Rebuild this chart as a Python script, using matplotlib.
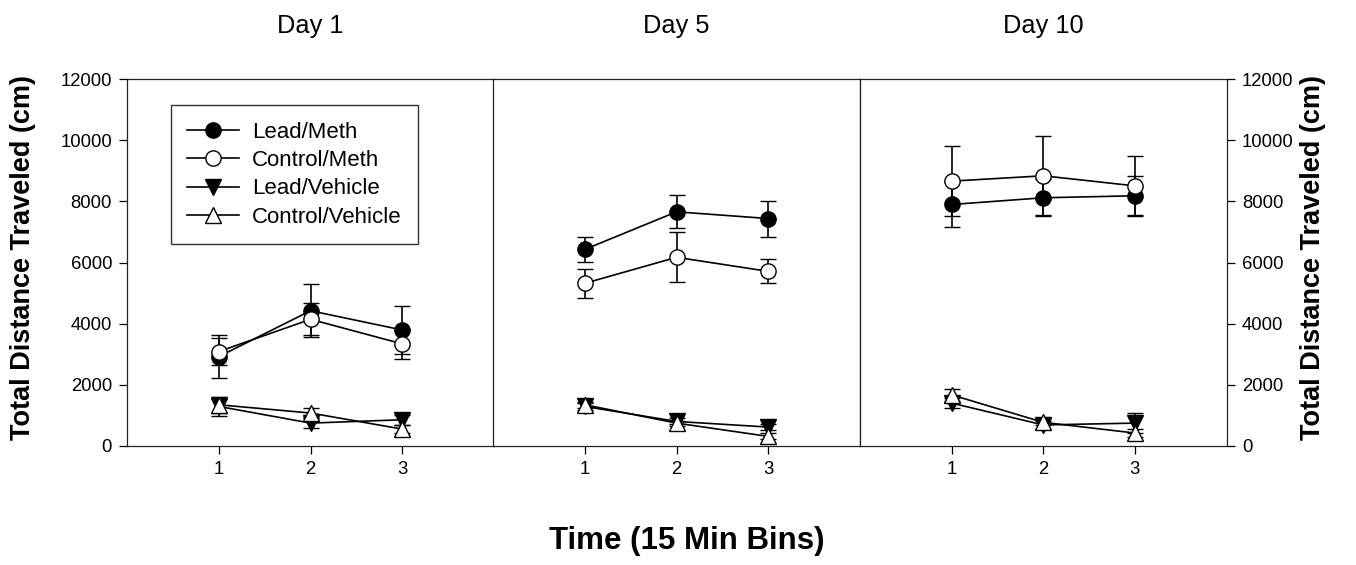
import numpy as np
import matplotlib
matplotlib.use("Agg")
import matplotlib.pyplot as plt
from matplotlib.lines import Line2D

plt.rcParams['font.family'] = ['Liberation Sans', 'DejaVu Sans']

# data (mean, SEM) per day
days = ["Day 1", "Day 5", "Day 10"]
bins = [1, 2, 3]

lead_meth = [[2920, 4420, 3790], [6430, 7660, 7440], [7900, 8120, 8185]]
lead_meth_err = [[700, 870, 800], [420, 545, 590], [750, 600, 650]]

ctrl_meth = [[3085, 4140, 3335], [5320, 6170, 5710], [8665, 8840, 8510]]
ctrl_meth_err = [[435, 520, 500], [470, 820, 390], [1150, 1300, 970]]

lead_veh = [[1285, 740, 850], [1285, 795, 610], [1395, 680, 740]]
lead_veh_err = [[300, 170, 160], [100, 100, 100], [160, 120, 330]]

ctrl_veh = [[1340, 1070, 545], [1340, 740, 305], [1665, 765, 415]]
ctrl_veh_err = [[270, 170, 130], [100, 80, 100], [190, 100, 120]]

series = [
    ("Lead/Meth", lead_meth, lead_meth_err, 'o', 'black'),
    ("Control/Meth", ctrl_meth, ctrl_meth_err, 'o', 'white'),
    ("Lead/Vehicle", lead_veh, lead_veh_err, 'v', 'black'),
    ("Control/Vehicle", ctrl_veh, ctrl_veh_err, '^', 'white'),
]

fig = plt.figure(figsize=(13.56, 5.65), dpi=100)

lefts = [127.3 / 1356, 493.3 / 1356, 860 / 1356]
w = 366.5 / 1356
b = (565 - 445.7) / 565
h = 366.4 / 565

axes = []
for i, day in enumerate(days):
    ax = fig.add_axes([lefts[i], b, w, h])
    axes.append(ax)
    for name, vals, errs, mk, fc in series:
        ax.errorbar(bins, vals[i], yerr=errs[i], fmt='-', marker=mk, color='black',
                    mfc=fc, mec='black', ms=11, lw=1.2, elinewidth=1.2,
                    capsize=6, capthick=1.2, mew=1.0)
    ax.set_xlim(0, 4)
    ax.set_ylim(0, 12000)
    ax.set_xticks(bins)
    ax.set_yticks(np.arange(0, 12001, 2000))
    ax.tick_params(direction='out', length=6, width=0.9, labelsize=13.3, pad=5)
    for s in ax.spines.values():
        s.set_linewidth(0.9)
        s.set_color('#222222')
    ax.set_title(day, fontsize=18.3, pad=33)

# left panel: y ticks on left only
axes[0].set_ylabel("Total Distance Traveled (cm)", fontsize=19.5, fontweight='bold')
axes[0].yaxis.set_label_coords(-0.248, 0.513)

# middle panel: no y ticks
axes[1].tick_params(axis='y', left=False, labelleft=False)

# right panel: y ticks on right
axes[2].yaxis.tick_right()
axes[2].tick_params(axis='y', right=True, left=False, labelright=True, labelleft=False)
axes[2].yaxis.set_label_position('right')
axes[2].set_ylabel("Total Distance Traveled (cm)", fontsize=19.5, fontweight='bold',
                   rotation=90)
axes[2].yaxis.set_label_coords(1.20, 0.513)

handles = [Line2D([], [], color='black', lw=1.2, marker=mk, mfc=fc, mec='black',
                  ms=11, mew=1.0) for _, _, _, mk, fc in series]
labels = [s[0] for s in series]
leg = axes[0].legend(handles, labels, loc='upper left', bbox_to_anchor=(0.1186, 0.930),
                     borderaxespad=0, fontsize=16, frameon=True, fancybox=False,
                     handlelength=2.3, handletextpad=0.6, labelspacing=0.33,
                     borderpad=0.75, edgecolor='black')
leg.get_frame().set_linewidth(1.0)

fig.text(687 / 1356, 1 - 541 / 565, "Time (15 Min Bins)", fontsize=22.5,
         fontweight='bold', ha='center', va='center')

fig.savefig("out.png", dpi=100)
